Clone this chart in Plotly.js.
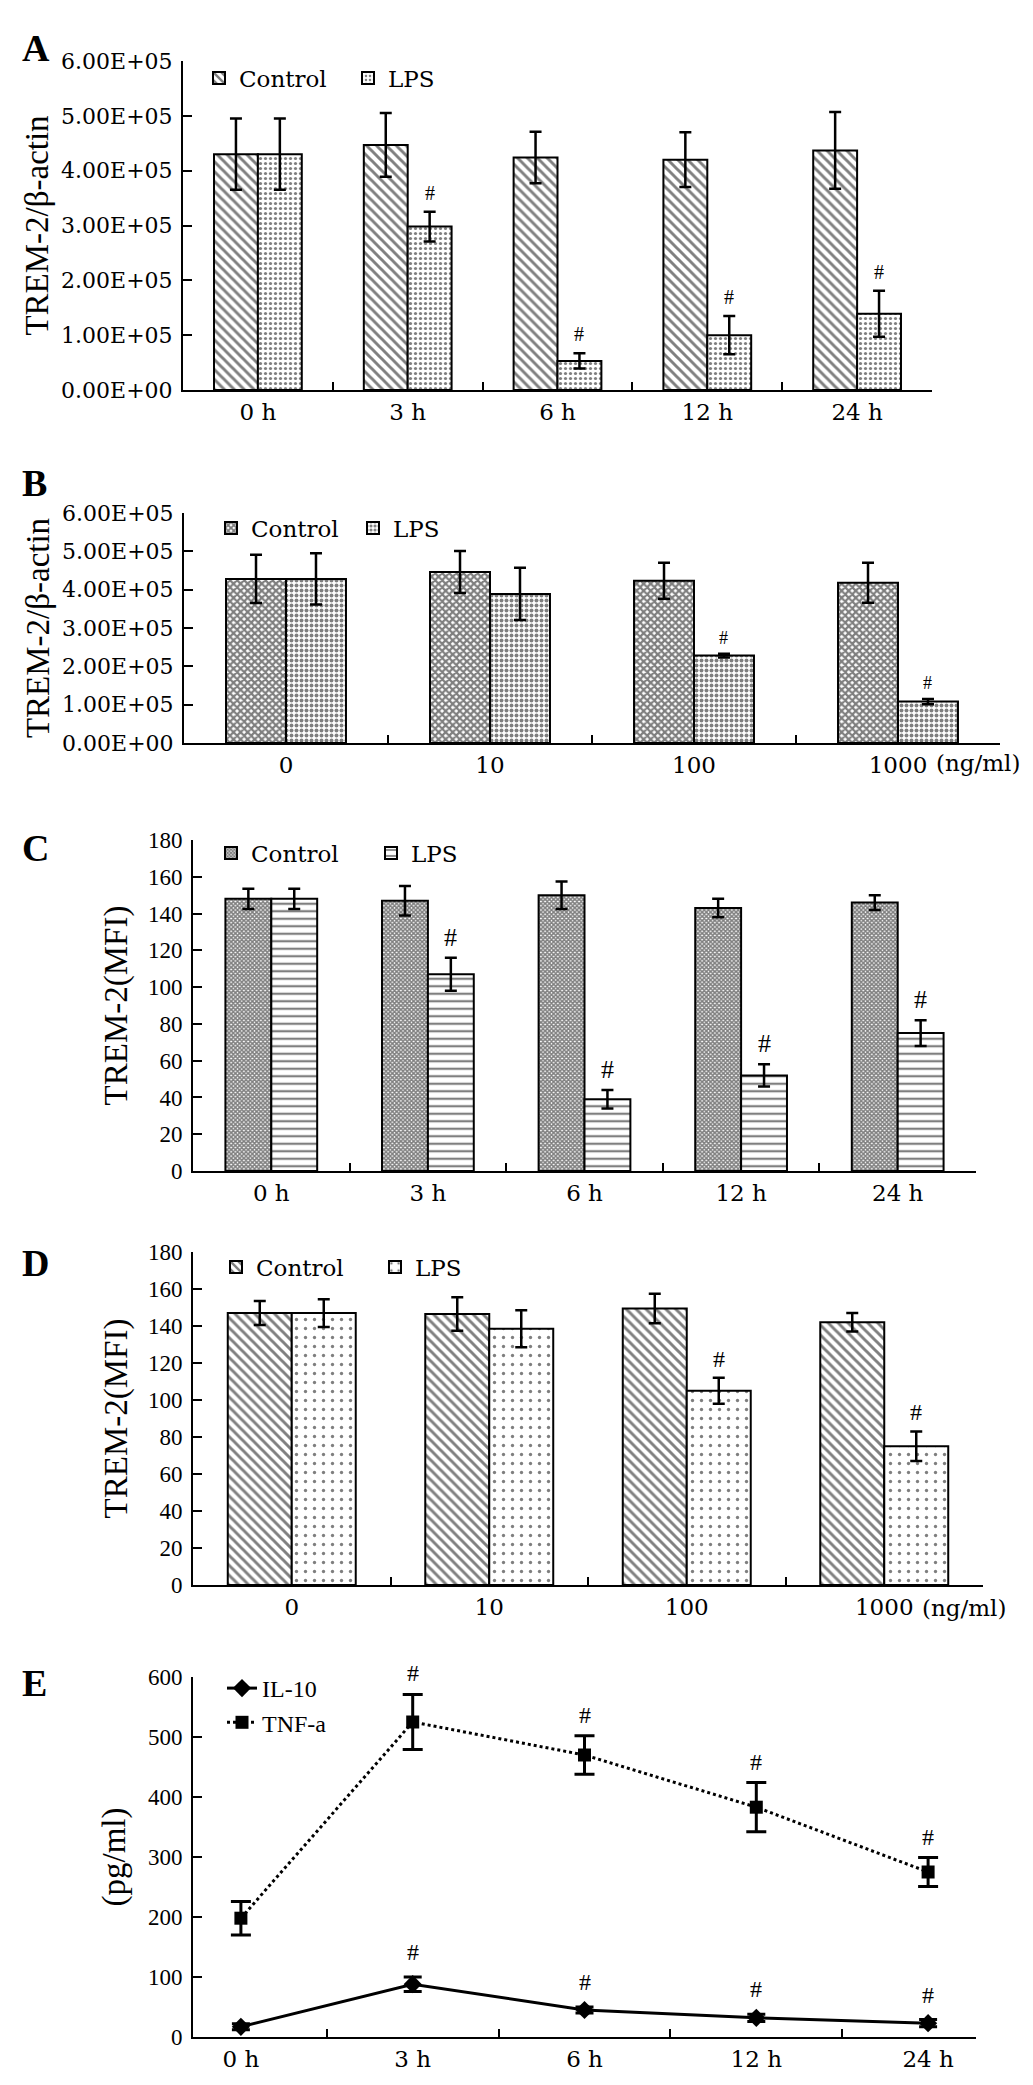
<!DOCTYPE html>
<html>
<head>
<meta charset="utf-8">
<script src="https://cdn.plot.ly/plotly-3.0.1.min.js"></script>
<style>body{margin:0;background:#fff}</style>
</head>
<body>
<div id="chart" style="width:1033px;height:2085px"></div>
<script>
// A: TREM-2/beta-actin over time
var timeLabels = ['0 h', '3 h', '6 h', '12 h', '24 h'];
var aControl = [4.30e5, 4.47e5, 4.24e5, 4.20e5, 4.37e5];
var aControlErr = [0.65e5, 0.58e5, 0.47e5, 0.50e5, 0.70e5];
var aLps = [4.30e5, 2.98e5, 0.53e5, 1.00e5, 1.39e5];
var aLpsErr = [0.65e5, 0.27e5, 0.14e5, 0.35e5, 0.42e5];
var aSig = ['', '#', '#', '#', '#'];

// B: TREM-2/beta-actin by LPS dose
var doseLabels = ['0', '10', '100', '1000'];
var bControl = [4.28e5, 4.46e5, 4.23e5, 4.18e5];
var bControlErr = [0.63e5, 0.55e5, 0.47e5, 0.52e5];
var bLps = [4.28e5, 3.89e5, 2.28e5, 1.08e5];
var bLpsErr = [0.67e5, 0.68e5, 0.05e5, 0.07e5];
var bSig = ['', '', '#', '#'];

// C: TREM-2 (MFI) over time
var cControl = [148, 147, 150, 143, 146];
var cControlErr = [5.5, 8, 7.5, 5, 4];
var cLps = [148, 107, 39, 52, 75];
var cLpsErr = [5.5, 9, 5, 6, 7];
var cSig = ['', '#', '#', '#', '#'];

// D: TREM-2 (MFI) by dose
var dControl = [147, 146.5, 149.5, 142];
var dControlErr = [6.5, 9, 8, 5];
var dLps = [147, 138.5, 105, 75];
var dLpsErr = [7.5, 10, 7, 8];
var dSig = ['', '', '#', '#'];

// E: cytokines (pg/ml)
var il10 = [17, 88, 45, 32, 23];
var il10Err = [5, 12, 5, 6, 6];
var tnf = [198, 525, 470, 383, 275];
var tnfErr = [28, 46, 32, 41, 24];
var il10Sig = ['', '#', '#', '#', '#'];
var tnfSig = ['', '#', '#', '#', '#'];

var abTickVals = [0, 1e5, 2e5, 3e5, 4e5, 5e5, 6e5];
var abTickText = ['0.00E+00', '1.00E+05', '2.00E+05', '3.00E+05', '4.00E+05', '5.00E+05', '6.00E+05'];

var W = 1033, H = 2085;
function px(x) { return x / W; }
function py(y) { return 1 - y / H; }
var simFace = 'DejaVu Serif, serif';
var serif = 'Liberation Serif, Times New Roman, serif';

function errBar(arr, th, w) {
  return {type: 'data', array: arr, visible: true, color: '#000', thickness: th || 2.5, width: w || 6};
}
function pat(shape, size, solidity) {
  return {shape: shape, size: size, solidity: solidity, fillmode: 'overlay', bgcolor: '#fff', fgcolor: '#000'};
}
function barPair(n, cats, ctl, ctlErr, lps, lpsErr, w, ctlPat, lpsPat) {
  var xa = 'x' + (n > 1 ? n : ''), ya = 'y' + (n > 1 ? n : ''), lg = 'legend' + (n > 1 ? n : '');
  return [
    {type: 'bar', name: 'Control', x: cats, y: ctl, xaxis: xa, yaxis: ya, width: w, offset: -w,
     marker: {color: '#fff', line: {color: '#000', width: 2}, pattern: ctlPat},
     error_y: errBar(ctlErr), legend: lg, hoverinfo: 'skip'},
    {type: 'bar', name: 'LPS', x: cats, y: lps, xaxis: xa, yaxis: ya, width: w, offset: 0,
     marker: {color: '#fff', line: {color: '#000', width: 2}, pattern: lpsPat},
     error_y: errBar(lpsErr), legend: lg, hoverinfo: 'skip'}
  ];
}

var wA = 0.293, wB = 0.294, wC = 0.293, wD = 0.324;

var data = []
  .concat(barPair(1, timeLabels, aControl, aControlErr, aLps, aLpsErr, wA, pat('\\', 7, 0.42), pat('.', 5, 0.32)))
  .concat(barPair(2, doseLabels, bControl, bControlErr, bLps, bLpsErr, wB, pat('x', 5, 0.7), pat('.', 5, 0.48)))
  .concat(barPair(3, timeLabels, cControl, cControlErr, cLps, cLpsErr, wC, pat('x', 3, 0.78), pat('-', 7.5, 0.3)))
  .concat(barPair(4, doseLabels, dControl, dControlErr, dLps, dLpsErr, wD, pat('\\', 7, 0.42), pat('.', 9, 0.11)));

data.push({
  type: 'scatter', mode: 'lines+markers', name: 'IL-10', x: timeLabels, y: il10,
  xaxis: 'x5', yaxis: 'y5', legend: 'legend5',
  line: {color: '#000', width: 3},
  marker: {symbol: 'diamond', size: 14, color: '#000'},
  error_y: errBar(il10Err, 3, 9)
});
data.push({
  type: 'scatter', mode: 'lines+markers', name: 'TNF-a', x: timeLabels, y: tnf,
  xaxis: 'x5', yaxis: 'y5', legend: 'legend5',
  line: {color: '#000', width: 3, dash: 'dot'},
  marker: {symbol: 'square', size: 13, color: '#000'},
  error_y: errBar(tnfErr, 3, 10)
});

function xAxis(n, x0, x1, font) {
  return {
    domain: [px(x0), px(x1)], anchor: 'y' + (n > 1 ? n : ''), type: 'category',
    showline: true, linewidth: 2, linecolor: '#000', showgrid: false, zeroline: false,
    ticks: 'inside', tickson: 'boundaries', ticklen: 8, tickwidth: 2, tickcolor: '#000',
    tickfont: font, fixedrange: true
  };
}
function yAxis(n, y0, y1, range, font, title, titleFont, standoff) {
  return {
    domain: [py(y1), py(y0)], anchor: 'x' + (n > 1 ? n : ''), range: range,
    showline: true, linewidth: 2, linecolor: '#000', showgrid: false, zeroline: false,
    ticks: 'inside', ticklen: 9, tickwidth: 2, tickcolor: '#000',
    tickfont: font, ticklabelstandoff: 4,
    title: {text: title, font: titleFont, standoff: standoff}, fixedrange: true
  };
}

var simFont = {family: simFace, size: 23, color: '#000'};
var simTick = {family: simFace, size: 22, color: '#000'};
var serifTick = {family: serif, size: 23, color: '#000'};
var titleFont = {family: serif, size: 33, color: '#000'};

var yA = yAxis(1, 61, 390, [0, 6e5], simTick, 'TREM-2/β-actin', titleFont, 3);
yA.tickvals = abTickVals; yA.ticktext = abTickText;
var yB = yAxis(2, 513, 743, [0, 6e5], simTick, 'TREM-2/β-actin', titleFont, 3);
yB.tickvals = abTickVals; yB.ticktext = abTickText;
var yC = yAxis(3, 840, 1171, [0, 180], serifTick, 'TREM-2(MFI)', titleFont, 10);
yC.dtick = 20;
var yD = yAxis(4, 1252, 1585, [0, 180], serifTick, 'TREM-2(MFI)', titleFont, 10);
yD.dtick = 20;
var yE = yAxis(5, 1677, 2037, [0, 600], serifTick, '(pg/ml)', titleFont, 12);
yE.dtick = 100;

function barLegend(x, y, ew) {
  return {x: px(x), y: py(y), xanchor: 'left', yanchor: 'middle', orientation: 'h',
    font: simFont, entrywidth: ew, entrywidthmode: 'pixels', bgcolor: 'rgba(0,0,0,0)', itemclick: false};
}

var annotations = [];
function letter(t, y) {
  annotations.push({xref: 'paper', yref: 'paper', x: px(20), y: py(y), xanchor: 'left', yanchor: 'middle',
    text: '<b>' + t + '</b>', font: {family: serif, size: 38, color: '#000'}, showarrow: false});
}
letter('A', 48); letter('B', 483); letter('C', 848); letter('D', 1263); letter('E', 1683);

function hashes(n, sig, vals, errs, dx, size, shift, family) {
  for (var i = 0; i < sig.length; i++) {
    if (!sig[i]) continue;
    annotations.push({xref: 'x' + (n > 1 ? n : ''), yref: 'y' + (n > 1 ? n : ''), x: i + dx, y: vals[i] + errs[i],
      yanchor: 'bottom', yshift: shift, text: sig[i], showarrow: false,
      font: {family: family, size: size, color: '#000'}});
  }
}
hashes(1, aSig, aLps, aLpsErr, wA / 2, 20, 6, serif);
hashes(2, bSig, bLps, bLpsErr, wB / 2, 18, 4, serif);
hashes(3, cSig, cLps, cLpsErr, wC / 2, 26, 4, serif);
hashes(4, dSig, dLps, dLpsErr, wD / 2, 24, 4, serif);
hashes(5, il10Sig, il10, il10Err, 0, 24, 10, serif);
hashes(5, tnfSig, tnf, tnfErr, 0, 24, 6, serif);

annotations.push({xref: 'paper', yref: 'paper', x: px(934), y: py(763), xanchor: 'left', yanchor: 'middle',
  text: '(ng/ml)', font: simFont, showarrow: false});
annotations.push({xref: 'paper', yref: 'paper', x: px(920), y: py(1608), xanchor: 'left', yanchor: 'middle',
  text: '(ng/ml)', font: simFont, showarrow: false});

var layout = {
  width: W, height: H,
  margin: {l: 0, r: 0, t: 0, b: 0},
  paper_bgcolor: '#fff', plot_bgcolor: '#fff',
  barmode: 'overlay',
  showlegend: true,
  xaxis: xAxis(1, 183, 932, simFont), yaxis: yA,
  xaxis2: xAxis(2, 184, 1000, simFont), yaxis2: yB,
  xaxis3: xAxis(3, 193, 976, simFont), yaxis3: yC,
  xaxis4: xAxis(4, 193, 983, simFont), yaxis4: yD,
  xaxis5: xAxis(5, 193, 976, simFont), yaxis5: yE,
  legend: barLegend(199, 78, 104),
  legend2: barLegend(211, 528, 97),
  legend3: barLegend(211, 853, 115),
  legend4: barLegend(216, 1267, 114),
  legend5: {x: px(222), y: py(1666), xanchor: 'left', yanchor: 'top', orientation: 'v',
    font: {family: serif, size: 24, color: '#000'}, bgcolor: 'rgba(0,0,0,0)', itemclick: false},
  annotations: annotations
};

Plotly.newPlot('chart', data, layout, {displayModeBar: false, staticPlot: true});
</script>
</body>
</html>
